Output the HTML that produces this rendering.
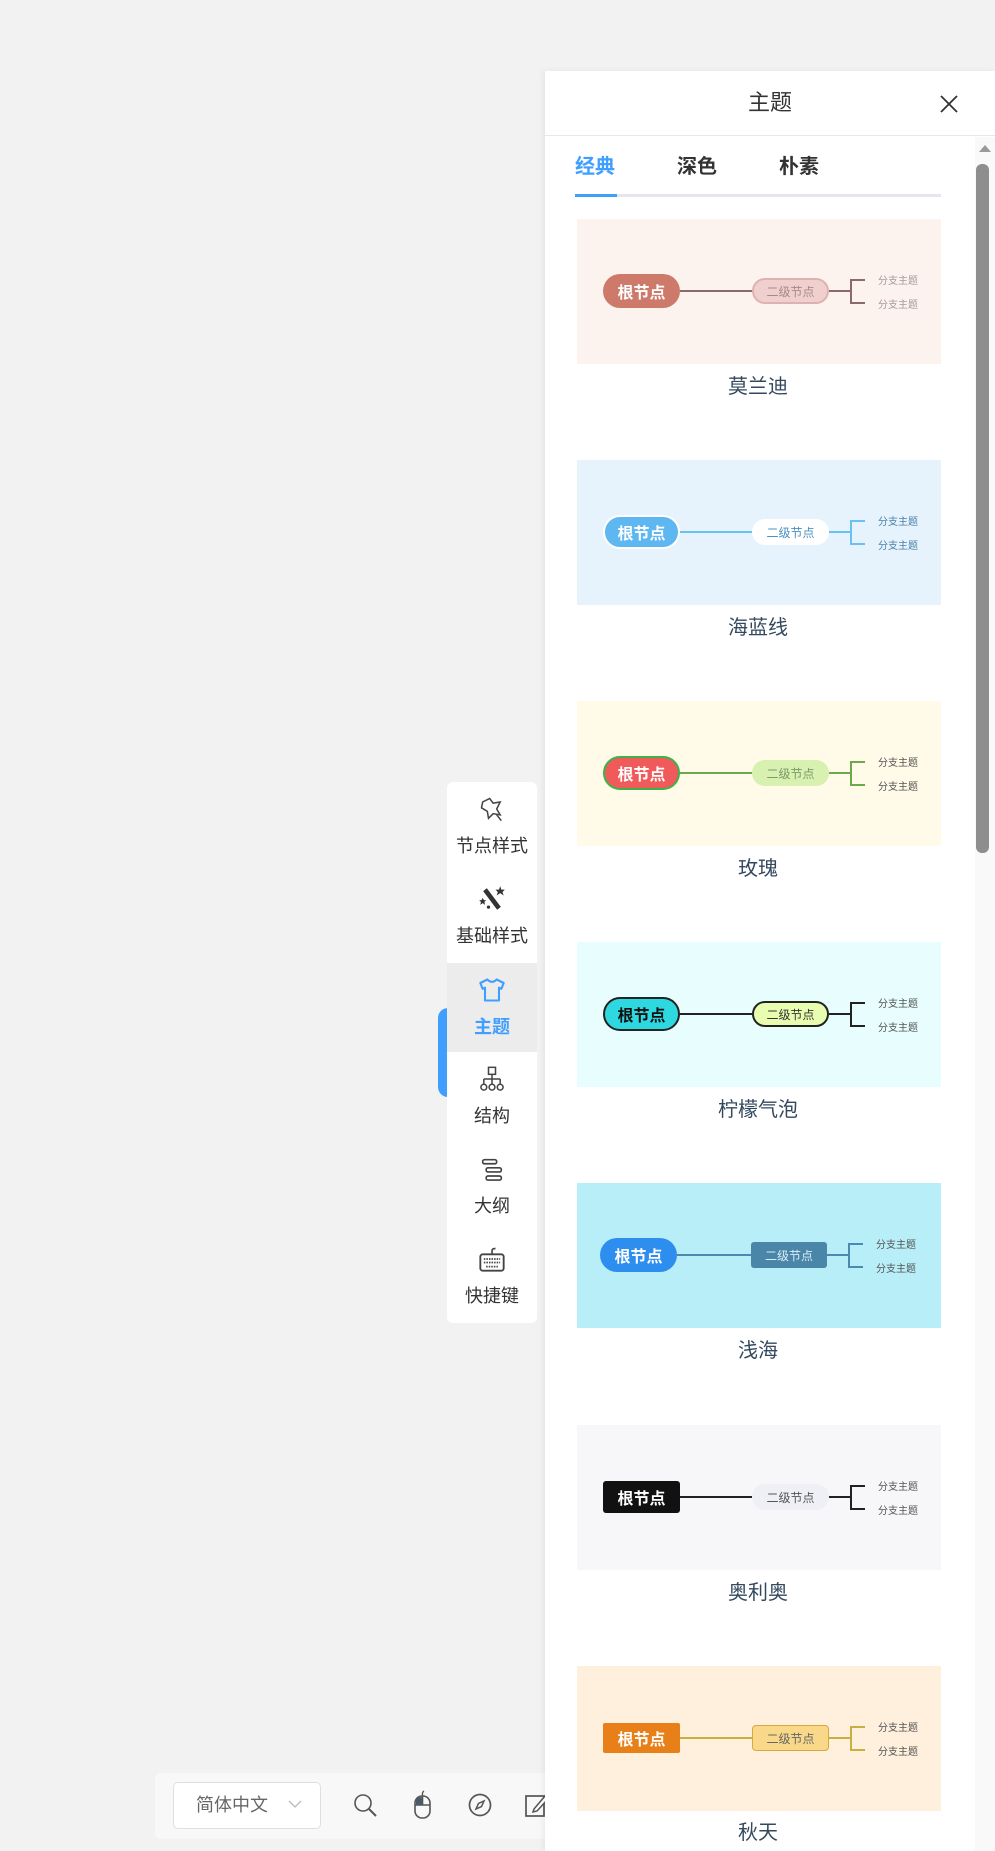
<!DOCTYPE html>
<html><head><meta charset="utf-8">
<style>
*{margin:0;padding:0;box-sizing:border-box}
body{width:995px;height:1851px;background:#f2f2f2;position:relative;overflow:hidden;font-family:"Liberation Sans","Noto Sans CJK SC",sans-serif;}
.abs{position:absolute}
#panel{left:545px;top:71px;width:450px;height:1780px;background:#fff;box-shadow:-2px 0 6px rgba(0,0,0,0.06);}
.card{position:absolute;left:31px;width:364px;height:145px;}
.card .n{position:absolute;display:flex;align-items:center;justify-content:center;white-space:nowrap}
.root{left:26px;width:77px;height:34px;top:55px;font-size:16px;font-weight:bold;border-radius:17px}
.sec{left:175px;width:77px;height:26px;top:59px;font-size:12px;border-radius:13px}
.l1{position:absolute;left:103px;width:72px;top:71px;height:2px}
.l2{position:absolute;left:252px;width:22px;top:71px;height:2px}
.br{position:absolute;left:273px;top:60px;width:15px;height:25px;border:2px solid;border-right:none}
.bt{position:absolute;left:301px;font-size:10px;color:#777;white-space:nowrap}
.lab{position:absolute;left:31px;width:364px;text-align:center;font-size:20px;color:#34495e}
.side{position:absolute;left:447px;width:90px;height:90px;text-align:center;font-size:18px;color:#333}
.side .ic{position:absolute;left:31px;top:13px;width:28px;height:28px}
.side .t{position:absolute;left:0;width:90px;top:52px;line-height:24px}
</style></head><body>

<!-- bottom bar -->
<div class="abs" style="left:155px;top:1773px;width:420px;height:66px;background:#f8f8f8;border-radius:6px"></div>
<div class="abs" style="left:173px;top:1782px;width:148px;height:47px;border:1px solid #dcdfe6;border-radius:5px;background:#fff"></div>
<div class="abs" style="left:196px;top:1792px;font-size:18px;color:#666;line-height:26px">简体中文</div>
<svg class="abs" style="left:287px;top:1798px" width="16" height="12"><path d="M2 3 L8 9 L14 3" fill="none" stroke="#bbb" stroke-width="1.3"/></svg>
<svg class="abs" style="left:352px;top:1792px" width="28" height="28"><circle cx="11" cy="11" r="8" fill="none" stroke="#555" stroke-width="1.6"/><path d="M17 17 L24 24" stroke="#555" stroke-width="2"/></svg>
<svg class="abs" style="left:412px;top:1790px" width="22" height="30"><rect x="3" y="6" width="15" height="22" rx="7" fill="none" stroke="#555" stroke-width="1.6"/><path d="M3 15 H18 M10.5 6 V15" stroke="#555" stroke-width="1.6"/><path d="M10.5 6 Q10 2 12 1" fill="none" stroke="#555" stroke-width="1.4"/><path d="M4 15 V11 Q4 7 10 7 V15Z" fill="#4a5a6a"/></svg>
<svg class="abs" style="left:467px;top:1792px" width="26" height="26"><circle cx="13" cy="13" r="10.5" fill="none" stroke="#555" stroke-width="1.7"/><path d="M17 9 L14.5 14.5 L9 17 L11.5 11.5Z" fill="none" stroke="#555" stroke-width="1.5"/></svg>
<svg class="abs" style="left:524px;top:1792px" width="26" height="26"><rect x="2" y="4" width="18" height="20" fill="none" stroke="#555" stroke-width="1.7"/><path d="M10 17 L21 4 L24 7 L13 19 L9 20Z" fill="#fff" stroke="#555" stroke-width="1.5"/></svg>

<!-- sidebar -->
<div class="abs" style="left:438px;top:1008px;width:20px;height:89px;background:#409eff;border-radius:10px 0 0 10px"></div>
<div class="abs" style="left:447px;top:782px;width:90px;height:541px;background:#fff;border-radius:6px"></div>
<div class="abs" style="left:447px;top:963px;width:90px;height:89px;background:#ececec"></div>
<div class="side" style="top:782px"><svg class="ic" viewBox="0 0 24 24"><path d="M4 6 L10 3 L13 7 L19 6 L16 12 L19 17 L13 16 L9 20 L8 14 L3 11Z" fill="none" stroke="#444" stroke-width="1.3"/><path d="M16 17 L20 22" stroke="#444" stroke-width="1.3"/></svg><div class="t">节点样式</div></div>
<div class="side" style="top:872px"><svg class="ic" viewBox="0 0 24 24"><path d="M6 4 L18 20" stroke="#333" stroke-width="4"/><path d="M19 1 L20 4 L23 4 L21 6 L22 9 L19 7 L16 9 L17 6 L15 4 L18 4Z" fill="#333"/><path d="M4 11 L5 13 L7 13 L5.5 14.5 L6 17 L4 15.5 L2 17 L2.5 14.5 L1 13 L3 13Z" fill="#333"/><circle cx="9" cy="19" r="1.4" fill="#333"/></svg><div class="t">基础样式</div></div>
<div class="side" style="top:963px"><svg class="ic" viewBox="0 0 24 24"><path d="M8 3 Q12 7 16 3 L22 6 L20 11 L18 10 L18 21 L6 21 L6 10 L4 11 L2 6Z" fill="none" stroke="#409eff" stroke-width="1.8" stroke-linejoin="round"/></svg><div class="t" style="color:#409eff;font-weight:bold">主题</div></div>
<div class="side" style="top:1052px"><svg class="ic" viewBox="0 0 24 24"><rect x="9" y="2" width="6" height="6" fill="none" stroke="#444" stroke-width="1.3"/><path d="M12 8 V12 M5 12 H19 M5 12 V16 M12 12 V16 M19 12 V16" stroke="#444" stroke-width="1.3" fill="none"/><circle cx="5" cy="19" r="2.5" fill="none" stroke="#444" stroke-width="1.3"/><circle cx="12" cy="19" r="2.5" fill="none" stroke="#444" stroke-width="1.3"/><circle cx="19" cy="19" r="2.5" fill="none" stroke="#444" stroke-width="1.3"/></svg><div class="t">结构</div></div>
<div class="side" style="top:1142px"><svg class="ic" viewBox="0 0 24 24"><rect x="4" y="4" width="12" height="3.5" rx="1.5" fill="none" stroke="#444" stroke-width="1.4"/><rect x="7" y="11" width="13" height="3.5" rx="1.5" fill="none" stroke="#444" stroke-width="1.4"/><rect x="7" y="18" width="13" height="3.5" rx="1.5" fill="none" stroke="#444" stroke-width="1.4"/></svg><div class="t">大纲</div></div>
<div class="side" style="top:1232px"><svg class="ic" viewBox="0 0 24 24"><rect x="2" y="8" width="20" height="14" rx="2" fill="none" stroke="#444" stroke-width="1.6"/><path d="M12 8 V5 Q12 3 15 3" fill="none" stroke="#444" stroke-width="1.4"/><path d="M5 12 H19 M5 15 H19 M7 18.5 H17" stroke="#444" stroke-width="1.5" stroke-dasharray="1.3 0.9"/></svg><div class="t">快捷键</div></div>

<!-- panel -->
<div id="panel" class="abs">
  <div class="abs" style="left:0;top:0;width:450px;height:65px;border-bottom:1px solid #e8e8e8"></div>
  <div class="abs" style="left:0;width:450px;top:18px;text-align:center;font-size:22px;color:#333;line-height:28px">主题</div>
  <svg class="abs" style="left:394px;top:23px" width="20" height="20"><path d="M2 2 L18 18 M18 2 L2 18" stroke="#333" stroke-width="1.8"/></svg>
  <div class="abs" style="left:30px;top:83px;font-size:20px;color:#409eff;font-weight:bold;line-height:26px">经典</div>
  <div class="abs" style="left:132px;top:83px;font-size:20px;color:#333;font-weight:bold;line-height:26px">深色</div>
  <div class="abs" style="left:234px;top:83px;font-size:20px;color:#333;font-weight:bold;line-height:26px">朴素</div>
  <div class="abs" style="left:30px;top:123px;width:366px;height:3px;background:#e4e7ed"></div>
  <div class="abs" style="left:30px;top:123px;width:42px;height:3px;background:#409eff"></div>
  <div class="abs" style="left:430px;top:66px;width:20px;height:1714px;background:#f9f9f9"></div>
  <svg class="abs" style="left:433px;top:73px" width="14" height="9"><path d="M1 8 L7 1 L13 8Z" fill="#999"/></svg>
  <div class="abs" style="left:431px;top:93px;width:13px;height:689px;background:#8e8e8e;border-radius:6px"></div>

  <div class="card" style="top:148px;left:32px;background:#fcf3ef">
    <div class="n root" style="background:#cd7a6b;color:#fff">根节点</div>
    <div class="l1" style="background:#8a6a6a"></div>
    <div class="n sec" style="background:#f0d0cf;border:2px solid #dfb2b1;color:#a88">二级节点</div>
    <div class="l2" style="background:#8a6a6a"></div>
    <div class="br" style="border-color:#8a6a6a"></div>
    <div class="bt" style="top:53px;color:#a99">分支主题</div><div class="bt" style="top:77px;color:#a99">分支主题</div>
  </div>
  <div class="lab" style="top:299px">莫兰迪</div>

  <div class="card" style="top:389px;left:32px;background:#e6f3fc">
    <div class="n root" style="background:#5eb7f0;color:#fff;border:2px solid #fff">根节点</div>
    <div class="l1" style="background:#6ac0f0"></div>
    <div class="n sec" style="background:#fff;color:#4a90c0">二级节点</div>
    <div class="l2" style="background:#6ac0f0"></div>
    <div class="br" style="border-color:#6ac0f0"></div>
    <div class="bt" style="top:53px;color:#4a80a8">分支主题</div><div class="bt" style="top:77px;color:#4a80a8">分支主题</div>
  </div>
  <div class="lab" style="top:540px">海蓝线</div>

  <div class="card" style="top:630px;left:32px;background:#fffbe8">
    <div class="n root" style="background:#f05a5a;color:#fff;border:2px solid #3cb34a">根节点</div>
    <div class="l1" style="background:#6aaa4a"></div>
    <div class="n sec" style="background:#d8f0b0;color:#7a9a6a">二级节点</div>
    <div class="l2" style="background:#6aaa4a"></div>
    <div class="br" style="border-color:#6aaa4a"></div>
    <div class="bt" style="top:53px;color:#555">分支主题</div><div class="bt" style="top:77px;color:#555">分支主题</div>
  </div>
  <div class="lab" style="top:781px">玫瑰</div>

  <div class="card" style="top:871px;left:32px;background:#e8fefe">
    <div class="n root" style="background:#2ed8e0;color:#111;border:2px solid #222">根节点</div>
    <div class="l1" style="background:#222"></div>
    <div class="n sec" style="background:#e8fdb0;color:#333;border:2px solid #222">二级节点</div>
    <div class="l2" style="background:#222"></div>
    <div class="br" style="border-color:#222"></div>
    <div class="bt" style="top:53px;color:#555">分支主题</div><div class="bt" style="top:77px;color:#555">分支主题</div>
  </div>
  <div class="lab" style="top:1022px">柠檬气泡</div>

  <div class="card" style="top:1112px;left:32px;background:#b8eef8">
    <div class="n root" style="left:23px;background:#2e8ef0;color:#fff">根节点</div>
    <div class="l1" style="left:100px;width:74px;background:#4a8ab0"></div>
    <div class="n sec" style="left:174px;width:76px;background:#4a86a8;color:#d8eef8;border-radius:3px">二级节点</div>
    <div class="l2" style="left:250px;background:#4a8ab0"></div>
    <div class="br" style="left:271px;border-color:#4a8ab0"></div>
    <div class="bt" style="top:53px;left:299px;color:#555">分支主题</div><div class="bt" style="top:77px;left:299px;color:#555">分支主题</div>
  </div>
  <div class="lab" style="top:1263px">浅海</div>

  <div class="card" style="top:1354px;left:32px;background:#f7f7f9">
    <div class="n root" style="background:#111;color:#fff;border-radius:3px;height:32px;top:56px">根节点</div>
    <div class="l1" style="background:#222"></div>
    <div class="n sec" style="background:#eff0f6;color:#555">二级节点</div>
    <div class="l2" style="background:#222"></div>
    <div class="br" style="border-color:#222"></div>
    <div class="bt" style="top:53px;color:#555">分支主题</div><div class="bt" style="top:77px;color:#555">分支主题</div>
  </div>
  <div class="lab" style="top:1505px">奥利奥</div>

  <div class="card" style="top:1595px;left:32px;background:#fef0dc">
    <div class="n root" style="left:26px;background:#e8801a;color:#fff;border-radius:2px;height:30px;top:57px">根节点</div>
    <div class="l1" style="background:#c8b040"></div>
    <div class="n sec" style="background:#fad88a;color:#666;border:1px solid #d8a840;border-radius:4px">二级节点</div>
    <div class="l2" style="background:#c8b040"></div>
    <div class="br" style="border-color:#c8b040"></div>
    <div class="bt" style="top:53px;color:#555">分支主题</div><div class="bt" style="top:77px;color:#555">分支主题</div>
  </div>
  <div class="lab" style="top:1745px">秋天</div>
</div>
</body></html>
